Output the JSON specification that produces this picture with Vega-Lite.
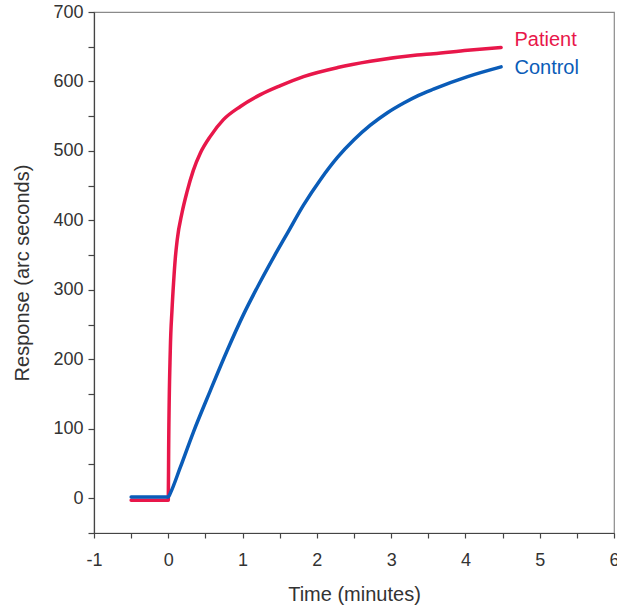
{
  "$schema": "https://vega.github.io/schema/vega-lite/v6.json",
  "width": 520,
  "height": 521,
  "autosize": "none",
  "padding": {"left": 94, "top": 12, "right": 3, "bottom": 76},
  "background": "white",
  "config": {
    "view": {"stroke": "#8a8a8a", "strokeWidth": 1.2},
    "font": "Liberation Sans"
  },
  "datasets": {
    "curves": [
      {"series": "Patient", "t": -0.5, "r": -3},
      {"series": "Patient", "t": 0.0, "r": -3},
      {"series": "Patient", "t": 0.005, "r": 70},
      {"series": "Patient", "t": 0.027, "r": 213},
      {"series": "Patient", "t": 0.05, "r": 271},
      {"series": "Patient", "t": 0.071, "r": 310},
      {"series": "Patient", "t": 0.094, "r": 345},
      {"series": "Patient", "t": 0.12, "r": 372},
      {"series": "Patient", "t": 0.185, "r": 411},
      {"series": "Patient", "t": 0.252, "r": 441},
      {"series": "Patient", "t": 0.337, "r": 472},
      {"series": "Patient", "t": 0.432, "r": 497},
      {"series": "Patient", "t": 0.566, "r": 521},
      {"series": "Patient", "t": 0.742, "r": 545},
      {"series": "Patient", "t": 0.971, "r": 564},
      {"series": "Patient", "t": 1.24, "r": 581},
      {"series": "Patient", "t": 1.51, "r": 594},
      {"series": "Patient", "t": 1.82, "r": 607},
      {"series": "Patient", "t": 2.28, "r": 620},
      {"series": "Patient", "t": 2.72, "r": 629},
      {"series": "Patient", "t": 3.35, "r": 638},
      {"series": "Patient", "t": 3.57, "r": 640},
      {"series": "Patient", "t": 4.03, "r": 645},
      {"series": "Patient", "t": 4.48, "r": 649},
      {"series": "Control", "t": -0.5, "r": 2},
      {"series": "Control", "t": 0.0, "r": 2},
      {"series": "Control", "t": 0.03, "r": 8},
      {"series": "Control", "t": 0.16, "r": 44},
      {"series": "Control", "t": 0.337, "r": 95},
      {"series": "Control", "t": 0.566, "r": 155},
      {"series": "Control", "t": 0.79, "r": 212},
      {"series": "Control", "t": 1.01, "r": 264},
      {"series": "Control", "t": 1.24, "r": 312},
      {"series": "Control", "t": 1.466, "r": 356},
      {"series": "Control", "t": 1.6, "r": 381},
      {"series": "Control", "t": 1.82, "r": 422},
      {"series": "Control", "t": 2.05, "r": 459},
      {"series": "Control", "t": 2.28, "r": 491},
      {"series": "Control", "t": 2.5, "r": 516},
      {"series": "Control", "t": 2.72, "r": 537},
      {"series": "Control", "t": 2.95, "r": 555},
      {"series": "Control", "t": 3.17, "r": 569},
      {"series": "Control", "t": 3.37, "r": 580},
      {"series": "Control", "t": 3.57, "r": 589},
      {"series": "Control", "t": 4.03, "r": 607},
      {"series": "Control", "t": 4.48, "r": 621}
    ],
    "labels": [
      {"series": "Patient", "t": 4.66, "r": 660},
      {"series": "Control", "t": 4.66, "r": 619}
    ]
  },
  "encoding": {
    "x": {
      "field": "t", "type": "quantitative",
      "scale": {"domain": [-1, 6], "nice": false, "zero": false},
      "axis": {
        "title": "Time (minutes)",
        "values": [-1, -0.5, 0, 0.5, 1, 1.5, 2, 2.5, 3, 3.5, 4, 4.5, 5, 5.5, 6],
        "labelExpr": "datum.value % 1 === 0 ? (datum.value < 0 ? '-' + abs(datum.value) : '' + datum.value) : ''",
        "grid": false,
        "domainColor": "#444", "domainWidth": 1.2,
        "tickColor": "#444", "tickSize": 5, "tickWidth": 1.2,
        "labelFontSize": 18, "labelColor": "#333", "labelPadding": 13,
        "labelFont": "Liberation Sans", "labelFlush": false, "labelOverlap": false, "labelBound": false,
        "titleFontSize": 20, "titleColor": "#333", "titleFontWeight": "normal",
        "titleFont": "Liberation Sans", "titlePadding": 15
      }
    },
    "y": {
      "field": "r", "type": "quantitative",
      "scale": {"domain": [-50, 700], "nice": false, "zero": false},
      "axis": {
        "title": "Response (arc seconds)",
        "values": [-50, 0, 50, 100, 150, 200, 250, 300, 350, 400, 450, 500, 550, 600, 650, 700],
        "labelExpr": "datum.value % 100 === 0 ? '' + datum.value : ''",
        "grid": false,
        "domainColor": "#444", "domainWidth": 1.2,
        "tickColor": "#444", "tickSize": 6, "tickWidth": 1.2,
        "labelFontSize": 18, "labelColor": "#333", "labelPadding": 5,
        "labelFont": "Liberation Sans", "labelFlush": false, "labelOverlap": false, "labelBound": false,
        "titleFontSize": 20, "titleColor": "#333", "titleFontWeight": "normal",
        "titleFont": "Liberation Sans", "titlePadding": 20
      }
    },
    "color": {
      "field": "series", "type": "nominal",
      "scale": {"domain": ["Patient", "Control"], "range": ["#e8174a", "#0a5cb8"]},
      "legend": null
    }
  },
  "layer": [
    {
      "data": {"name": "curves"},
      "mark": {"type": "line", "strokeWidth": 3.5, "strokeJoin": "round", "strokeCap": "round", "interpolate": "monotone"},
      "encoding": {
        "detail": {"field": "series"}
      }
    },
    {
      "data": {"name": "labels"},
      "mark": {"type": "text", "align": "left", "baseline": "middle", "fontSize": 20, "font": "Liberation Sans"},
      "encoding": {
        "text": {"field": "series"}
      }
    }
  ]
}
